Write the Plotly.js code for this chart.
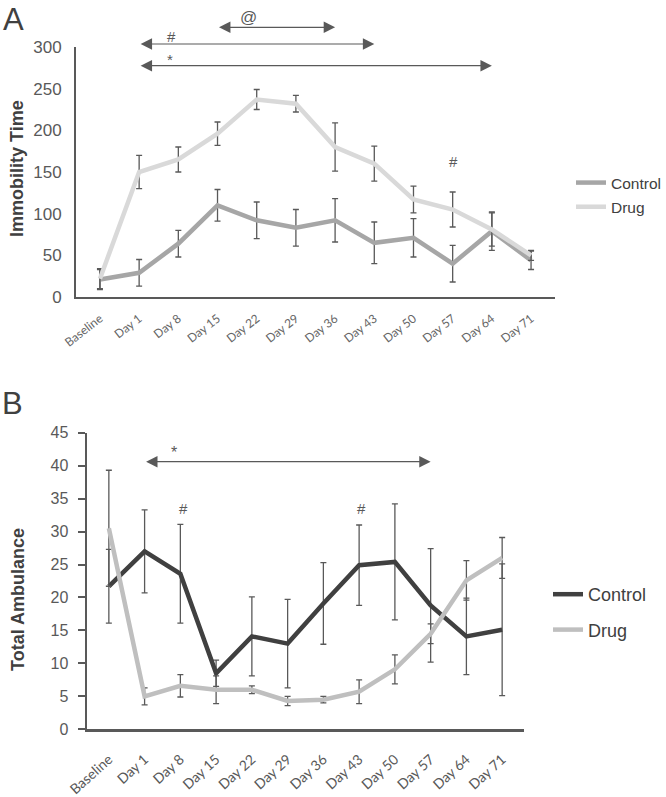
<!DOCTYPE html>
<html><head><meta charset="utf-8">
<script src="https://cdn.plot.ly/plotly-3.0.1.min.js"></script>
<style>html,body{margin:0;padding:0;background:#fff}</style>
</head><body><div id="chart" style="width:666px;height:797px"></div>
<script>
const categories = ['Baseline','Day 1','Day 8','Day 15','Day 22','Day 29','Day 36','Day 43','Day 50','Day 57','Day 64','Day 71'];
// Panel A: Immobility Time
const immControl    = [21, 29, 64, 110, 92, 83, 92, 65, 71, 40, 79, 44];
const immControlErr = [12, 16, 16, 19, 22, 22, 26, 25, 23, 22, 23, 11];
const immDrug       = [22, 150, 165, 196, 237, 232, 180, 160, 117, 105, 81, 50];
const immDrugErr    = [12, 20, 15, 14, 12, 10, 29, 21, 16, 21, 20, 6];
// Panel B: Total Ambulance
const ambControl    = [21.7, 27, 23.6, 8.5, 14.1, 13, 19.1, 24.9, 25.4, 18.8, 14.1, 15.1];
const ambControlErr = [5.6, 6.3, 7.5, 2, 6, 6.7, 6.2, 6.1, 8.8, 8.6, 5.8, 10];
const ambDrug       = [30.5, 5, 6.6, 6, 6, 4.3, 4.5, 5.7, 9.1, 14.5, 22.6, 26];
const ambDrugErr    = [8.8, 1.3, 1.7, 2.1, 0.6, 0.7, 0.5, 1.8, 2.2, 1.5, 3, 3.1];
const seriesNames = ['Control', 'Drug'];
// significance brackets: [label, from, to]
const sigA = [['@', 'Day 15', 'Day 36'], ['#', 'Day 1', 'Day 43'], ['*', 'Day 1', 'Day 64']];
const sigB = [['*', 'Day 1', 'Day 57']];

const W = 666, H = 797;
const px = v => v / W, py = v => 1 - v / H;
const errC = '#595959';
const FONT = 'Liberation Sans, Arial, sans-serif';

function tr(y, e, name, color, xa, ya, leg, grp) {
  return {
    type: 'scatter', mode: 'lines', x: categories, y: y, name: name,
    xaxis: xa, yaxis: ya, legend: leg, legendgroup: grp,
    line: {color: color, width: 4.5},
    error_y: {type: 'data', array: e, visible: true, color: errC, thickness: 1.3, width: 3},
    cliponaxis: false
  };
}
const data = [
  tr(immControl, immControlErr, seriesNames[0], '#a6a6a6', 'x', 'y', 'legend', 'a1'),
  tr(immDrug, immDrugErr, seriesNames[1], '#d9d9d9', 'x', 'y', 'legend', 'a2'),
  tr(ambControl, ambControlErr, seriesNames[0], '#404040', 'x2', 'y2', 'legend2', 'b1'),
  tr(ambDrug, ambDrugErr, seriesNames[1], '#bfbfbf', 'x2', 'y2', 'legend2', 'b2')
];

const ann = [];
const idx = c => categories.indexOf(c);
function bracket(s, xr, yPix) {
  ann.push({xref: xr, yref: 'paper', axref: xr, ayref: 'pixel', x: idx(s[2]), y: py(yPix), ax: idx(s[1]), ay: 0,
    text: '', showarrow: true, arrowside: 'end+start', arrowhead: 2, arrowsize: 1.9, arrowwidth: 1.2,
    arrowcolor: '#595959', standoff: 0, startstandoff: 0});
}
bracket(sigA[0], 'x', 27.3);
bracket(sigA[1], 'x', 44);
bracket(sigA[2], 'x', 65.7);
bracket(sigB[0], 'x2', 461.7);
function lab(t, x, xr, yPix, size) {
  ann.push({xref: xr, yref: 'paper', x: x, y: py(yPix), text: t, showarrow: false, xanchor: 'center', yanchor: 'middle',
    font: {family: FONT, size: size, color: '#595959'}});
}
lab(sigA[0][0], 3.8, 'x', 18, 17);
lab(sigA[1][0], 1.82, 'x', 37, 15);
lab(sigA[2][0], 1.8, 'x', 60, 15);
lab('#', 9.03, 'x', 162, 15);
lab(sigB[0][0], 1.81, 'x2', 452, 16);
lab('#', 2.08, 'x2', 508, 15);
lab('#', 7.07, 'x2', 508, 15);
// panel letters and axis titles
ann.push({xref: 'paper', yref: 'paper', x: px(1), y: py(0), xanchor: 'left', yanchor: 'top', text: 'A', showarrow: false,
  font: {family: FONT, size: 31, color: '#404040'}});
ann.push({xref: 'paper', yref: 'paper', x: px(0), y: py(384), xanchor: 'left', yanchor: 'top', text: 'B', showarrow: false,
  font: {family: FONT, size: 31, color: '#404040'}});
ann.push({xref: 'paper', yref: 'paper', x: px(17), y: py(169), xanchor: 'center', yanchor: 'middle', textangle: -90,
  text: '<b>Immobility Time</b>', showarrow: false, font: {family: FONT, size: 18, color: '#404040'}});
ann.push({xref: 'paper', yref: 'paper', x: px(18), y: py(600), xanchor: 'center', yanchor: 'middle', textangle: -90,
  text: '<b>Total Ambulance</b>', showarrow: false, font: {family: FONT, size: 18, color: '#404040'}});

const axLine = {showline: true, linecolor: '#595959', linewidth: 2, showgrid: false, zeroline: false, fixedrange: true};
const layout = {
  width: W, height: H, margin: {l: 0, r: 0, t: 0, b: 0},
  paper_bgcolor: '#fff', plot_bgcolor: 'rgba(0,0,0,0)',
  showlegend: true,
  xaxis: Object.assign({}, axLine, {domain: [px(76), px(555)], anchor: 'y', type: 'category',
    tickangle: -38, ticks: '', tickfont: {family: 'Lato, sans-serif', size: 12, color: '#666666'}, ticklabelstandoff: 8}),
  yaxis: Object.assign({}, axLine, {domain: [py(297), py(47)], anchor: 'x', range: [0, 300], dtick: 50,
    ticks: '', tickfont: {family: FONT, size: 17, color: '#595959'}, ticklabelstandoff: 9}),
  xaxis2: Object.assign({}, axLine, {domain: [px(87), px(524)], anchor: 'y2', type: 'category', linewidth: 2.5,
    tickangle: -42, ticks: '', tickfont: {family: 'Lato, sans-serif', size: 14, color: '#595959'}, ticklabelstandoff: 14}),
  yaxis2: Object.assign({}, axLine, {domain: [py(729.3), py(432.7)], anchor: 'x2', range: [0, 45], dtick: 5, linewidth: 2.5,
    ticks: 'outside', ticklen: 7, tickwidth: 2, tickcolor: '#595959',
    tickfont: {family: FONT, size: 16, color: '#595959'}, ticklabelstandoff: 6}),
  legend: {x: px(571), y: py(166), xanchor: 'left', yanchor: 'top', traceorder: 'grouped', tracegroupgap: 1,
    bgcolor: 'rgba(0,0,0,0)', font: {family: FONT, size: 15.5, color: '#404040'}},
  legend2: {x: px(548), y: py(576), xanchor: 'left', yanchor: 'top', traceorder: 'grouped', tracegroupgap: 9,
    bgcolor: 'rgba(0,0,0,0)', font: {family: FONT, size: 18, color: '#404040'}},
  annotations: ann
};
Plotly.newPlot('chart', data, layout, {displayModeBar: false, staticPlot: true});
</script></body></html>
